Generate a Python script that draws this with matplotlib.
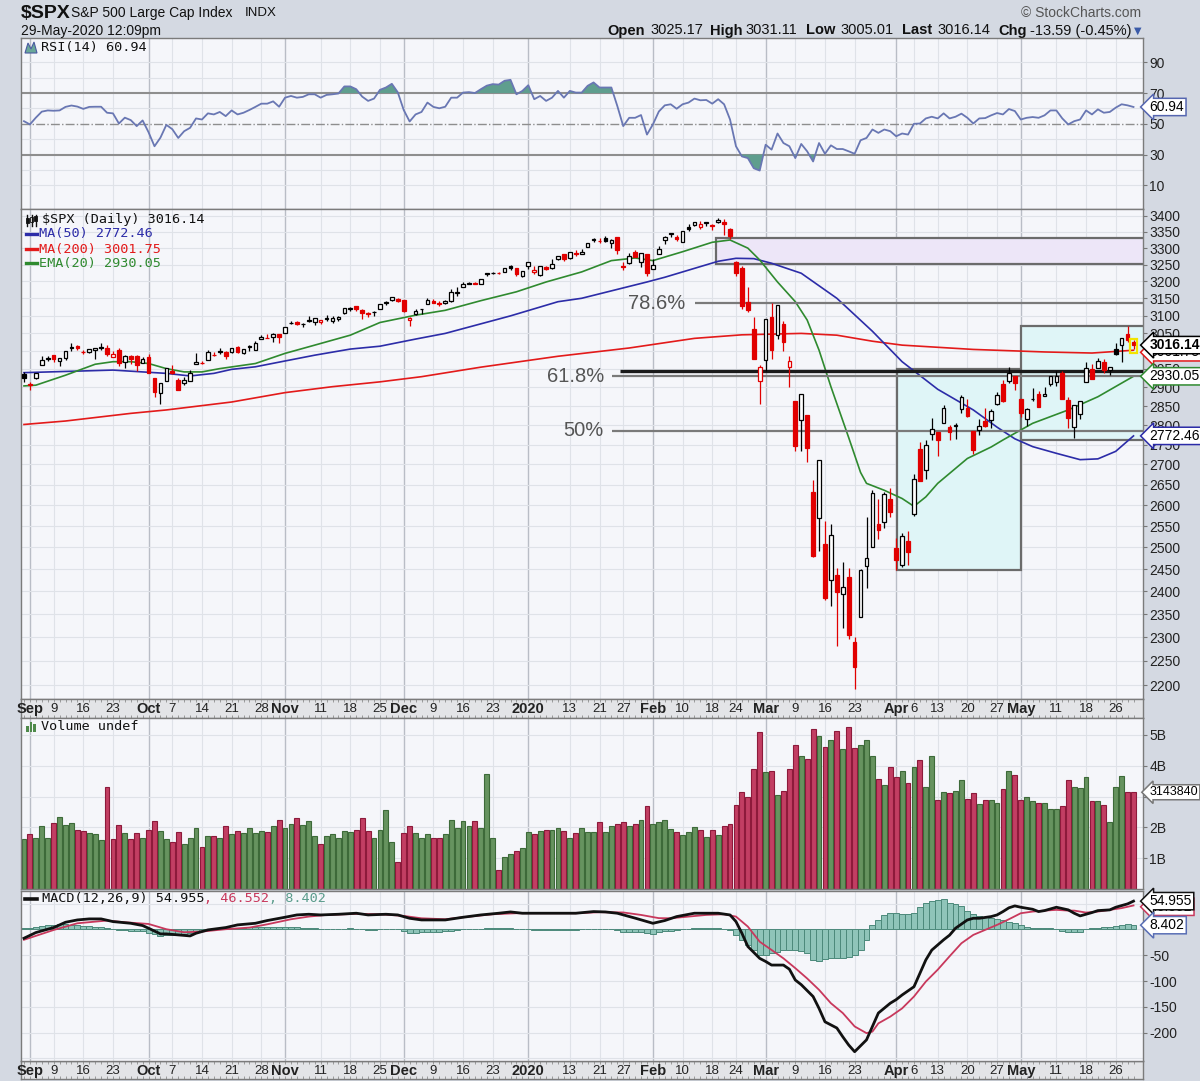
import numpy as np
import matplotlib
matplotlib.use("Agg")
import matplotlib.pyplot as plt
from matplotlib.patches import Rectangle, Polygon
from matplotlib.ticker import NullLocator, NullFormatter

# ---------------- data: one value per trading day, 30-Aug-2019 .. 29-May-2020 ----------------
open_ = [2937.1, 2909.0, 2924.7, 2960.6, 2980.3, 2988.4, 2971.0, 2981.4, 3009.1, 3012.2, 2996.4, 2995.7, 3001.5, 3010.4, 3008.4, 2983.5, 3002.4, 2968.4, 2985.7, 2985.5, 2967.1,
         2983.7, 2924.8, 2885.4, 2918.6, 2944.2, 2920.4, 2911.1, 2918.6, 2963.1, 2965.8, 2973.6, 2989.7, 3000.8, 2996.8, 2996.5, 3010.7, 2994.0, 3014.8, 3003.3, 3032.1, 3035.4, 3039.7, 3046.9,
         3050.7, 3078.9, 3080.8, 3075.1, 3087.0, 3081.3, 3080.3, 3089.3, 3084.2, 3090.8, 3107.9, 3117.9, 3127.5, 3114.7, 3108.5, 3111.4, 3117.4, 3134.9, 3145.5, 3147.2,
         3143.8, 3087.4, 3103.5, 3119.2, 3134.6, 3141.9, 3135.4, 3135.8, 3141.2, 3166.7, 3183.6, 3195.4, 3195.2, 3192.3, 3223.3, 3226.1, 3225.5, 3227.2, 3247.2, 3240.1, 3215.2,
         3244.7, 3226.4, 3217.6, 3241.9, 3238.6, 3266.0, 3281.0, 3271.1, 3285.4, 3282.3, 3303.0, 3323.7, 3321.0, 3330.0, 3315.8, 3333.1, 3247.2, 3255.3, 3289.5, 3256.5, 3282.3,
         3235.7, 3280.6, 3324.9, 3344.9, 3335.5, 3318.3, 3365.9, 3370.5, 3365.9, 3378.1, 3369.0, 3380.4, 3380.5, 3360.5, 3257.6, 3238.9, 3139.9, 3062.5, 2916.9,
         2974.3, 3096.5, 3045.8, 3075.7, 2954.2, 2863.9, 2813.5, 2825.6, 2630.9, 2570.0, 2508.6, 2425.7, 2436.5, 2393.5, 2431.9, 2290.7, 2344.4, 2457.8, 2501.3, 2555.9, 2559.0, 2614.7,
         2498.1, 2458.5, 2514.9, 2578.3, 2738.7, 2685.0, 2777.0, 2782.5, 2805.1, 2795.6, 2799.3, 2842.4, 2845.6, 2784.8, 2787.9, 2810.4, 2812.6, 2854.7, 2910.0, 2918.5, 2930.9,
         2869.1, 2815.0, 2868.9, 2883.1, 2878.3, 2908.8, 2915.5, 2939.5, 2865.9, 2794.5, 2830.0, 2913.9, 2948.6, 2953.6, 2970.0, 2948.1, 3004.1, 3015.7, 3046.6, 3025.2]
high = [2940.4, 2914.4, 2938.8, 2985.9, 2985.0, 2989.4, 2979.4, 3000.9, 3020.7, 3017.3, 3002.2, 3006.2, 3007.8, 3021.0, 3016.4, 2999.2, 3007.3, 2989.8, 2987.3, 2987.3, 2983.8,
        2992.5, 2924.8, 2911.1, 2953.7, 2959.8, 2925.5, 2929.3, 2948.5, 2993.3, 2972.8, 3003.3, 2997.5, 3008.3, 3000.0, 3007.3, 3014.6, 3004.8, 3016.1, 3027.4, 3044.1, 3047.9, 3050.1, 3046.9,
        3066.9, 3085.2, 3083.9, 3078.3, 3097.8, 3093.1, 3088.3, 3102.6, 3098.1, 3098.2, 3120.5, 3124.2, 3127.6, 3119.0, 3110.1, 3112.9, 3133.8, 3142.7, 3154.3, 3150.3,
        3144.3, 3095.0, 3119.4, 3119.5, 3150.6, 3148.9, 3142.1, 3144.0, 3176.3, 3182.7, 3197.7, 3198.2, 3198.5, 3205.5, 3225.6, 3227.8, 3226.4, 3240.1, 3247.9, 3240.9, 3231.7,
        3258.1, 3246.2, 3246.8, 3244.9, 3267.1, 3275.6, 3283.0, 3288.1, 3294.3, 3298.7, 3317.1, 3329.9, 3329.8, 3337.8, 3326.9, 3333.2, 3258.8, 3285.8, 3293.5, 3285.9, 3282.3,
        3268.4, 3306.9, 3337.6, 3348.0, 3341.4, 3352.3, 3375.6, 3381.5, 3385.1, 3380.7, 3375.0, 3393.5, 3389.2, 3360.8, 3259.8, 3247.0, 3182.5, 3097.1, 2959.7,
        3091.0, 3136.7, 3131.0, 3083.0, 2985.9, 2863.9, 2882.6, 2825.6, 2660.9, 2711.3, 2563.0, 2553.9, 2453.6, 2467.0, 2453.0, 2300.7, 2449.7, 2571.4, 2637.0, 2615.9, 2631.8, 2641.4,
        2522.8, 2533.2, 2538.2, 2676.9, 2756.9, 2760.8, 2818.6, 2782.5, 2851.9, 2801.9, 2806.5, 2879.2, 2869.0, 2785.5, 2815.1, 2844.9, 2842.7, 2887.7, 2921.2, 2954.9, 2930.9,
        2869.1, 2844.2, 2898.2, 2891.1, 2901.9, 2932.2, 2944.3, 2945.8, 2874.1, 2852.8, 2865.0, 2968.1, 2964.2, 2980.3, 2978.5, 2956.8, 3021.7, 3036.3, 3068.7, 3031.1]
low = [2913.3, 2891.9, 2921.9, 2960.6, 2972.5, 2969.4, 2957.0, 2975.3, 3000.9, 3002.9, 2990.7, 2993.7, 2978.6, 3003.2, 2984.7, 2982.2, 2957.7, 2952.9, 2963.7, 2945.5, 2967.1,
       2938.7, 2874.9, 2855.9, 2918.6, 2935.7, 2892.7, 2907.4, 2917.1, 2963.1, 2962.9, 2973.6, 2985.2, 2991.8, 2976.3, 2995.4, 2995.0, 2991.2, 3000.4, 3001.9, 3032.1, 3034.8, 3025.9, 3023.2,
       3050.7, 3074.9, 3072.2, 3065.9, 3080.3, 3073.6, 3075.8, 3084.7, 3078.8, 3083.3, 3104.6, 3112.1, 3113.5, 3091.4, 3094.6, 3099.3, 3117.4, 3131.0, 3143.4, 3139.3,
       3110.8, 3070.3, 3102.5, 3103.8, 3134.6, 3135.5, 3126.1, 3133.2, 3138.5, 3156.5, 3183.6, 3191.0, 3191.1, 3192.3, 3216.0, 3222.3, 3220.5, 3227.2, 3234.4, 3216.6, 3212.0,
       3235.5, 3222.3, 3214.6, 3232.4, 3236.7, 3263.7, 3260.9, 3268.4, 3277.2, 3280.7, 3302.8, 3318.9, 3316.6, 3320.0, 3301.9, 3281.5, 3234.5, 3253.2, 3271.9, 3242.8, 3214.7,
       3235.7, 3280.6, 3313.8, 3334.4, 3322.1, 3317.8, 3352.7, 3369.7, 3360.5, 3367.1, 3355.6, 3378.8, 3341.0, 3328.5, 3214.7, 3118.8, 3109.0, 2977.4, 2855.8,
       2945.2, 2976.6, 3034.4, 2999.8, 2901.5, 2734.4, 2734.0, 2707.2, 2478.9, 2492.4, 2380.9, 2367.0, 2280.5, 2319.8, 2295.6, 2191.9, 2344.4, 2407.5, 2500.7, 2520.0, 2545.3, 2571.2,
       2447.5, 2455.8, 2460.0, 2574.6, 2657.7, 2663.3, 2762.4, 2721.2, 2805.1, 2761.5, 2764.3, 2830.9, 2820.4, 2727.1, 2776.0, 2794.3, 2791.8, 2852.9, 2860.7, 2912.2, 2892.5,
       2821.6, 2797.9, 2863.6, 2847.7, 2876.5, 2902.9, 2903.4, 2869.6, 2793.2, 2766.6, 2816.8, 2913.9, 2922.4, 2953.6, 2938.6, 2933.6, 2988.2, 2969.8, 3023.4, 3005.0]
close = [2926.5, 2906.3, 2937.8, 2976.0, 2978.7, 2978.4, 2979.4, 3000.9, 3009.6, 3007.4, 2998.0, 3005.7, 3006.7, 3006.8, 2992.1, 2991.8, 2966.6, 2984.9, 2977.6, 2961.8, 2976.7,
         2940.3, 2887.6, 2910.6, 2952.0, 2938.8, 2893.1, 2919.4, 2938.1, 2970.3, 2966.2, 2995.7, 2989.7, 2998.0, 2986.2, 3006.7, 2996.0, 3004.5, 3010.3, 3022.6, 3039.4, 3036.9, 3046.8, 3037.6,
         3066.9, 3078.3, 3074.6, 3076.8, 3085.2, 3093.1, 3087.0, 3091.8, 3094.0, 3096.6, 3120.5, 3122.0, 3120.2, 3108.5, 3103.5, 3110.3, 3133.6, 3140.5, 3153.6, 3141.0,
         3113.9, 3093.2, 3112.8, 3117.4, 3145.9, 3136.0, 3132.5, 3141.6, 3168.6, 3168.8, 3191.5, 3192.5, 3191.1, 3205.4, 3221.2, 3224.0, 3223.4, 3239.9, 3240.0, 3221.3, 3230.8,
         3257.9, 3234.9, 3246.3, 3237.2, 3253.1, 3274.7, 3265.4, 3288.1, 3283.2, 3289.3, 3316.8, 3329.6, 3320.8, 3321.8, 3325.5, 3295.5, 3243.6, 3276.2, 3273.4, 3283.7, 3225.5,
         3248.9, 3297.6, 3334.7, 3345.8, 3327.7, 3352.1, 3357.8, 3379.5, 3373.9, 3380.2, 3370.3, 3386.2, 3373.2, 3337.8, 3225.9, 3128.2, 3116.4, 2978.8, 2954.2,
         3090.2, 3003.4, 3130.1, 3023.9, 2972.4, 2746.6, 2882.2, 2741.4, 2480.6, 2711.0, 2386.1, 2529.2, 2398.1, 2409.4, 2304.9, 2237.4, 2447.3, 2475.6, 2630.1, 2541.5, 2626.7, 2584.6,
         2470.5, 2526.9, 2488.7, 2663.7, 2659.4, 2750.0, 2789.8, 2761.6, 2846.1, 2783.4, 2799.6, 2874.6, 2823.2, 2736.6, 2799.3, 2797.8, 2836.7, 2878.5, 2863.4, 2939.5, 2912.4,
         2830.7, 2842.7, 2868.4, 2848.4, 2881.2, 2929.8, 2930.3, 2870.1, 2820.0, 2852.5, 2863.7, 2953.9, 2922.9, 2971.6, 2948.5, 2955.5, 2991.8, 3036.1, 3029.7, 3016.14]
prev_close = 2924.6  # 29-Aug-2019, colours the first candle

volume_b = [1.63, 1.77, 1.67, 2.03, 1.67, 2.15, 2.34, 2.07, 2.15, 1.93, 1.89, 1.81, 1.77, 1.58, 3.30, 1.63, 2.07, 1.81, 1.63, 1.81,
            1.67, 1.93, 2.20, 1.89, 1.63, 1.54, 1.85, 1.45, 1.67, 1.98, 1.36, 1.73, 1.73, 1.67, 2.03, 1.77, 1.89, 1.81, 1.98, 1.81,
            1.89, 1.85, 2.03, 2.24, 1.98, 2.12, 2.29, 2.07, 2.20, 1.73, 1.45, 1.73, 1.77, 1.67, 1.89, 1.85, 1.93, 2.29, 1.89, 1.67,
            1.93, 2.55, 1.54, 0.88, 1.81, 2.03, 1.81, 1.67, 1.77, 1.67, 1.67, 1.77, 2.24, 1.98, 2.20, 2.03, 2.20, 1.98, 3.74, 1.67,
            0.62, 1.05, 1.14, 1.23, 1.32, 1.85, 1.77, 1.89, 1.93, 1.93, 1.98, 1.89, 1.67, 1.81, 1.98, 1.85, 1.85,
            2.19, 1.86, 2.03, 2.11, 2.16, 2.03, 2.11, 2.24, 2.68, 2.11, 2.16, 2.24, 1.94, 1.86, 1.74, 1.86, 2.00, 1.90, 1.69, 1.90,
            1.74, 2.03, 2.11, 2.73, 3.15, 2.98, 3.88, 5.09, 3.80, 3.84, 3.06, 3.19, 3.88, 4.66, 4.33, 4.23, 5.18, 4.95, 4.62, 4.83,
            5.13, 4.53, 5.26, 4.57, 4.66, 4.83, 4.33, 3.58, 3.37, 3.97, 3.62, 3.84, 3.45, 3.97, 4.19, 3.32, 4.32, 2.89, 3.15, 3.11,
            3.19, 3.54, 2.93, 3.11, 2.76, 2.89, 2.89, 2.80, 3.24, 3.84, 3.71, 2.89, 2.98, 2.85, 2.80, 2.80, 2.59, 2.59, 2.68, 3.54,
            3.32, 3.28, 3.62, 2.85, 2.85, 2.72, 2.16, 3.32, 3.67, 3.15, 3.14]

rsi14 = [51.7, 49.6, 54.0, 57.9, 58.7, 58.5, 58.7, 61.0, 61.9, 61.2, 59.7, 61.0, 61.1, 61.1, 57.2, 56.8, 50.2, 54.0, 52.4, 48.5,
         52.2, 44.5, 35.4, 41.0, 49.3, 46.5, 40.8, 45.2, 47.4, 53.5, 52.8, 56.8, 56.1, 57.7, 55.0, 58.7, 56.1, 57.2, 59.0, 61.0,
         63.1, 63.1, 64.6, 61.1, 67.0, 68.1, 67.0, 67.5, 69.2, 69.2, 67.0, 68.8, 69.2, 69.7, 74.3, 74.3, 72.5, 67.7, 64.9, 66.4,
         72.1, 73.6, 76.0, 70.5, 59.0, 51.5, 56.1, 57.7, 63.8, 61.0, 60.1, 61.1, 67.0, 67.0, 70.3, 70.6, 70.0, 72.5, 74.8, 75.8,
         75.5, 78.0, 78.6, 69.2, 71.4, 75.1, 66.0, 68.1, 64.9, 67.0, 71.4, 67.0, 71.4, 70.3, 70.3, 74.7, 76.9, 73.6, 73.6, 73.6,
         61.6, 48.5, 53.9, 53.9, 55.7, 43.0, 49.6, 58.0, 62.0, 62.7, 59.8, 62.7, 63.8, 66.4, 65.3, 65.5, 63.1, 66.0, 62.7, 52.8,
         35.4, 28.8, 27.7, 21.1, 19.6, 36.4, 33.2, 43.7, 37.5, 35.4, 27.7, 36.9, 32.1, 25.5, 37.5, 30.5, 36.0, 33.6, 33.6, 32.1,
         30.5, 39.3, 40.8, 46.3, 44.1, 46.3, 45.2, 41.9, 43.7, 43.0, 50.0, 50.2, 53.5, 54.6, 53.5, 56.8, 53.5, 54.6, 56.6, 53.9,
         50.2, 53.5, 53.7, 55.5, 57.0, 56.1, 59.6, 58.3, 52.8, 53.9, 54.4, 53.9, 55.5, 58.7, 58.7, 53.5, 49.6, 51.7, 52.8, 58.7,
         56.1, 59.4, 57.2, 57.7, 60.5, 62.7, 62.0, 60.94]

macd_hist = [2.4, 3, 5, 7.5, 8.5, 9.5, 10, 10, 9, 8, 7, 6, 5, 4, 2.5, 1.5, -1, -1, -2, -3,
             -3.5, -6, -9.5, -12.5, -11, -10.5, -11, -9.5, -7, -4, -2, -0.5, 1.5, 2.5, 3, 3.5, 3.5, 3.5, 4, 4.5,
             5, 5.5, 5.5, 4.5, 5, 5, 4, 3.5, 3, 2.5, 1.5, 1.5, 1, 0.5, 1.5, 2, 1.5, 0.5, -0.5, -1.5,
             0, 0.5, 1, 0, -3, -6, -6, -5.5, -4, -4, -4, -3.5, -2, -1, 0, 0.5, 0.5, 1, 2, 2.5,
             2.5, 3, 3, 1.5, 1, 1, -0.5, -1, -1.5, -1.5, -1, -1.5, -1, -1, 0, 1, 1.5, 1.5, 1, 0.5,
             -1.5, -4, -4, -4.5, -5, -7.5, -8, -5, -3, -2, -1, 0, 1, 2, 2, 2.5, 2.5, 2.5, 1.5, -1,
             -10, -20, -30, -40, -50, -50, -45, -44, -40, -40, -40, -42, -45, -60, -61, -58, -56, -56, -55, -53,
             -50, -40, -20, 8, 18, 28, 31, 31, 30, 30, 32, 44, 52, 56, 58, 59, 52, 49, 46, 36,
             30, 27, 25, 22, 20, 18, 15, 12, 8, 5, 3, 2, 2, 2, 1, -3, -5, -5, -4, 0,
             2, 3, 4, 5, 6, 8, 10, 8.402]

# indicator lines at selected trading days
ma50_day = [0, 15, 24, 28, 32, 35, 39, 44, 49, 55, 60, 66, 71, 82, 90, 94, 105, 108, 114, 117, 120, 123, 126, 131,
            137, 143, 148, 154, 160, 164, 167, 170, 174, 178, 181, 184, 187]
ma50_val = [2940, 2947, 2938, 2931, 2938, 2949, 2956, 2972, 2988, 3005, 3013, 3033, 3049, 3099, 3140, 3150, 3198, 3212,
            3244, 3260, 3269, 3268, 3254, 3224, 3150, 3055, 2970, 2895, 2840, 2795, 2765, 2745, 2728, 2712, 2714, 2733, 2772.46]
ma200_day = [0, 7, 18, 24, 35, 44, 52, 60, 67, 77, 90, 102, 113, 121, 131, 137, 143, 148, 160, 172, 180, 187]
ma200_val = [2802, 2811, 2831, 2840, 2861, 2886, 2902, 2915, 2929, 2955, 2985, 3008, 3035, 3045, 3049, 3044, 3027, 3016,
             3004, 2997, 2994, 3001.75]
ema20_day = [0, 2, 7, 12, 15, 18, 21, 24, 27, 30, 33, 39, 44, 49, 55, 60, 66, 71, 77, 83, 88, 94, 99, 103, 106, 111,
             116, 119, 122, 124, 127, 130, 132, 134, 136, 139, 141, 142, 145, 148, 150, 152, 154, 159, 163, 165, 170, 176, 181, 187]
ema20_val = [2904, 2906, 2933, 2963, 2970, 2970, 2965, 2951, 2942, 2942, 2951, 2965, 2993, 3016, 3044, 3080, 3101, 3115,
             3143, 3169, 3198, 3228, 3262, 3270, 3262, 3289, 3318, 3325, 3300, 3264, 3198, 3140, 3087, 3002, 2902, 2768,
             2680, 2653, 2636, 2616, 2597, 2620, 2653, 2715, 2744, 2762, 2805, 2840, 2875, 2930.05]
macd_day = [0, 2, 5, 7, 9, 11, 13, 15, 18, 20, 21, 23, 24, 26, 28, 29, 31, 34, 36, 39, 41, 44, 46, 48, 50, 53, 56, 58,
            61, 63, 65, 67, 71, 74, 77, 80, 82, 84, 87, 90, 93, 96, 98, 100, 103, 106, 108, 110, 113, 117, 119, 120, 121,
            122, 124, 125, 126, 128, 129, 130, 131, 133, 134, 135, 137, 138, 139, 140, 142, 143, 144, 146, 147, 148, 150,
            151, 152, 153, 155, 156, 157, 159, 160, 161, 163, 164, 165, 166, 167, 168, 170, 171, 172, 174, 176, 177, 178,
            180, 181, 183, 184, 186, 187]
macd_val = [-17, -6, 3.7, 14, 18.5, 20.5, 20.5, 15.3, 12, 7.6, 2.4, -8.6, -8.6, -10.5, -12.5, -7.3, -0.8, 3.7, 8.9, 12,
            17.3, 23.7, 28.2, 29.5, 28.2, 29.5, 31.5, 28.2, 29.5, 28.2, 21.7, 18.5, 18.5, 23.7, 28.2, 31.5, 34, 31.5, 31.5,
            31.5, 31.5, 34.7, 34, 31.5, 22, 12, 17.3, 25, 31.5, 31.5, 28.2, 15.3, -7.3, -33, -56, -62, -69, -69, -77, -98,
            -107, -130, -153, -179, -191, -208, -224, -237, -214, -188, -162, -143, -136, -127, -111, -85, -59, -40, -20,
            -11, 2.4, 18.5, 21.7, 21.7, 25, 28.2, 34.7, 42, 45.7, 43.1, 39.2, 34.7, 36.6, 43.1, 38, 31.5, 26.3, 32.8, 36.6,
            38, 43.1, 49.6, 54.955]
signal_day = [0, 5, 9, 14, 17, 21, 24, 27, 30, 34, 38, 41, 45, 48, 51, 56, 60, 64, 67, 71, 74, 79, 83, 87, 93, 97, 101,
              104, 107, 109, 112, 115, 118, 120, 122, 124, 126, 128, 130, 132, 134, 136, 138, 140, 142, 143, 144, 146,
              148, 150, 152, 154, 156, 158, 160, 162, 164, 166, 168, 170, 172, 174, 176, 177, 179, 181, 183, 185, 187]
signal_val = [-20, -1, 12, 17.3, 14, 10.7, 0.5, -5.4, -4, 0.5, 3.7, 10, 19.8, 25, 28.2, 30.2, 29.5, 26.3, 21.7, 19.8,
              23.7, 29.5, 31.5, 31.5, 31.5, 33.5, 33, 28.2, 22, 21.7, 25, 28.2, 29.5, 25, 5.6, -23.7, -39.7, -56, -75, -95,
              -117, -143, -162, -188, -201, -198, -182, -169, -153, -130, -101, -78, -52, -26.7, -10.5, -0.8, 8.9, 19.8,
              31.5, 34.7, 36.6, 38, 36.6, 36.6, 32.8, 34.7, 38, 41.4, 46.552]

# x-axis labels (trading-day index of each label)
tick_day = [1, 5, 10, 15, 21, 25, 30, 35, 40, 44, 50, 55, 60, 64, 69, 74, 79, 85, 92, 97, 101, 106, 111, 116, 120,
            125, 130, 135, 140, 147, 150, 154, 159, 164, 168, 174, 179, 184]
tick_txt = ['Sep', '9', '16', '23', 'Oct', '7', '14', '21', '28', 'Nov', '11', '18', '25', 'Dec', '9', '16', '23',
            '2020', '13', '21', '27', 'Feb', '10', '18', '24', 'Mar', '9', '16', '23', 'Apr', '6', '13', '20', '27',
            'May', '11', '18', '26']
month_txt = {'Sep', 'Oct', 'Nov', 'Dec', '2020', 'Feb', 'Mar', 'Apr', 'May'}

# annotations drawn on the price panel
fib_levels = [('78.6%', 3135, 113.1, 111.4), ('61.8%', 2930, 99.1, 97.8), ('50%', 2786, 99.1, 97.6)]
resist_level, resist_start = 2944, 100.5
zones = [(116.7, 200, 3253, 3331, '#ede6f8'), (147.2, 168.1, 2447, 2951, '#dff5f7'), (168.1, 200, 2763, 3070, '#dff5f7')]

assert len(open_) == len(high) == len(low) == len(close) == len(volume_b) == len(rsi14) == len(macd_hist) == 188

# ---------------- figure ----------------
W, H = 1200, 1081
L, R = 21, 1143
XMIN, XMAX = -0.5, 188.6
PANEL_BG = '#f5f6fa'
GRID = '#dfe2e8'
SANS = ['Liberation Sans', 'DejaVu Sans']
MONO = 'DejaVu Sans Mono'

fig = plt.figure(figsize=(W / 100, H / 100), dpi=100)
fig.patch.set_facecolor('#d4d9e2')


def fx(px):
    return px / W


def fy(py):
    return 1 - py / H


def panel(top, bottom, bg=PANEL_BG):
    ax = fig.add_axes([fx(L), fy(bottom), (R - L) / W, (bottom - top) / H])
    ax.set_facecolor(bg)
    ax.set_xlim(XMIN, XMAX)
    for s in ax.spines.values():
        s.set_color('#7b7b7b')
        s.set_linewidth(1.0)
    ax.tick_params(axis='x', bottom=False, labelbottom=False)
    return ax


def vgrid(ax):
    for d, t in zip(tick_day, tick_txt):
        major = t in month_txt
        ax.axvline(d, color='#b9bdc6' if major else GRID, lw=1.0 if major else 0.8, zorder=0)


def right_ticks(ax, vals, labels):
    # labels that sit under a value tag in the original are left blank
    ax.yaxis.tick_right()
    ax.set_yticks(vals)
    ax.set_yticklabels(labels)
    ax.yaxis.set_minor_locator(NullLocator())
    ax.yaxis.set_minor_formatter(NullFormatter())
    ax.tick_params(axis='y', length=3, width=0.8, color='#777777', pad=1.5, labelsize=10, labelcolor='#222222')
    for t in ax.get_yticklabels():
        t.set_fontfamily(SANS)


def tag(ax, y, text, ec, weight='normal', fs=10):
    ax.text(1.006, y, text, transform=ax.get_yaxis_transform(), ha='left', va='center', fontsize=fs,
            fontweight=weight, family=SANS, color='black', zorder=30, clip_on=False,
            bbox=dict(boxstyle='larrow,pad=0.12', fc='white', ec=ec, lw=1.1))


def date_strip(top, bottom):
    ax = panel(top, bottom, bg='#e3e4e7')
    ax.set_ylim(0, 1)
    ax.set_yticks([])
    days = np.arange(len(close))
    ax.vlines(days, 0.84, 1.0, color='#8e8e8e', lw=0.6)
    ax.vlines(days, 0.0, 0.16, color='#8e8e8e', lw=0.6)
    for d, t in zip(tick_day, tick_txt):
        major = t in month_txt
        ax.text(d, 0.47, t, ha='center', va='center', family=SANS,
                fontsize=10.5 if major else 9.5, fontweight='bold' if major else 'normal', color='#222222')
    return ax


x = np.arange(len(close))
o, h, lo, c = map(np.array, (open_, high, low, close))
prev = np.r_[prev_close, c[:-1]]
up = c >= prev
candle_col = np.where(up, '#000000', '#e10000')

# ---------------- RSI ----------------
ax_rsi = panel(38, 209)
ax_rsi.set_ylim(-5.4, 105.8)
vgrid(ax_rsi)
for v in range(10, 100, 10):
    if v not in (30, 50, 70):
        ax_rsi.axhline(v, color=GRID, lw=0.8, zorder=0)
ax_rsi.axhline(70, color='#8e8e8e', lw=1.5, zorder=1)
ax_rsi.axhline(30, color='#8e8e8e', lw=1.5, zorder=1)
ax_rsi.axhline(50, color='#8e8e8e', lw=1.0, ls='-.', zorder=1)
rsi = np.array(rsi14)
ax_rsi.fill_between(x, rsi, 70, where=rsi >= 70, interpolate=True, color='#5f9e8e', lw=0, zorder=2)
ax_rsi.fill_between(x, rsi, 30, where=rsi <= 30, interpolate=True, color='#5f9e8e', lw=0, zorder=2)
ax_rsi.plot(x, rsi, color='#6977b3', lw=1.3, zorder=3)
right_ticks(ax_rsi, [10, 30, 50, 70, 90], ['10', '30', '50', '70', '90'])
tag(ax_rsi, rsi[-1], f'{rsi[-1]:.2f}', '#5566b0')
fig.text(fx(41), fy(47.5), 'RSI(14) 60.94', family=MONO, fontsize=9.7, va='center', color='#111111')
fig.patches.append(Polygon([(fx(25), fy(53)), (fx(28), fy(43)), (fx(31), fy(49)), (fx(34), fy(42)), (fx(37), fy(53))],
                           closed=True, transform=fig.transFigure, fc='#6aa899', ec='#4a5aa0', lw=0.8))

# ---------------- price ----------------
ax_p = panel(209, 699)
ax_p.set_yscale('log')
ax_p.set_ylim(2172, 3422)
vgrid(ax_p)
pticks = list(range(2200, 3401, 50))
for v in pticks:
    ax_p.axhline(v, color=GRID, lw=0.8, zorder=0)
right_ticks(ax_p, pticks, ['' if v == 3000 else str(v) for v in pticks])

for x0, x1, z_lo, z_hi, fc in zones:
    ax_p.add_patch(Rectangle((x0, z_lo), x1 - x0, z_hi - z_lo, fc=fc, ec='#6b6b6b', lw=1.6, zorder=1))

for name, lvl, start, lab_x in fib_levels:
    ax_p.plot([start, XMAX], [lvl, lvl], color='#7a7a7a', lw=1.6, zorder=3, solid_capstyle='butt')
    ax_p.text(lab_x, lvl, name, ha='right', va='center', fontsize=14.5, family=SANS, color='#555555', zorder=3)
ax_p.plot([resist_start, XMAX], [resist_level, resist_level], color='#1a1a1a', lw=2.4, zorder=3,
          solid_capstyle='butt')

ax_p.plot(ma200_day, ma200_val, color='#e31a1a', lw=1.2, zorder=2)
ax_p.plot(ma50_day, ma50_val, color='#2c2ca8', lw=1.2, zorder=2)
ax_p.plot(ema20_day, ema20_val, color='#2f8a2f', lw=1.2, zorder=2)

ax_p.vlines(x, lo, h, colors=candle_col, lw=0.9, zorder=4)
body_lo = np.minimum(o, c)
body_h = np.abs(c - o)
face = np.where(c > o, '#ffffff', candle_col)
ax_p.bar(x, body_h, bottom=body_lo, width=0.62, color=face, edgecolor=candle_col, lw=0.9, zorder=5)
ax_p.add_patch(Rectangle((x[-1] - 0.55, 2995), 1.1, 3034 - 2995, fill=False, ec='#f2e400', lw=1.6, zorder=6))

tag(ax_p, 2996, '3001.75', '#e31a1a')
tag(ax_p, c[-1], f'{c[-1]:.2f}', '#000000', weight='bold')
tag(ax_p, 2930.05, '2930.05', '#2f8a2f')
tag(ax_p, 2772.46, '2772.46', '#2c2ca8')

fig.text(fx(42.5), fy(220), '$SPX (Daily) 3016.14', family=MONO, fontsize=9.7, va='center', color='#111111')
for yy, txt, colr in [(234, 'MA(50) 2772.46', '#2c2ca8'), (249, 'MA(200) 3001.75', '#e31a1a'),
                      (263.5, 'EMA(20) 2930.05', '#2f8a2f')]:
    fig.text(fx(39), fy(yy), txt, family=MONO, fontsize=9.7, va='center', color=colr)
    fig.lines.append(plt.Line2D([fx(26), fx(37)], [fy(yy), fy(yy)], transform=fig.transFigure, color=colr, lw=2.4))
for k, xx in enumerate([27.5, 31.5, 35.5]):
    fig.lines.append(plt.Line2D([fx(xx), fx(xx)], [fy(215), fy(226)], transform=fig.transFigure, color='#111', lw=1))
    fig.patches.append(Rectangle((fx(xx - 1.3), fy(223 - k)), 2.6 / W, 5 / H, transform=fig.transFigure,
                                 fc='#111' if k != 1 else 'white', ec='#111', lw=0.6))

# ---------------- date strips ----------------
date_strip(699, 718)
date_strip(1061, 1079)

# ---------------- volume ----------------
ax_v = panel(718, 889)
ax_v.set_ylim(0, 5.55)
vgrid(ax_v)
for v in range(1, 6):
    ax_v.axhline(v, color=GRID, lw=0.8, zorder=0)
ax_v.bar(x, volume_b, width=0.82, color=np.where(up, '#66935f', '#c23e63'),
         edgecolor=np.where(up, '#3d6a39', '#8d1a3b'), lw=0.8, zorder=2)
right_ticks(ax_v, [1, 2, 3, 4, 5], ['1B', '2B', '', '4B', '5B'])
tag(ax_v, volume_b[-1], '3143840', '#777777', fs=9)
fig.text(fx(41), fy(727), 'Volume undef', family=MONO, fontsize=9.7, va='center', color='#111111')
for xx, hh in [(26, 6), (29.5, 10), (33, 8)]:
    fig.patches.append(Rectangle((fx(xx), fy(732)), 2.6 / W, hh / H, transform=fig.transFigure,
                                 fc='#4f8a4b', ec='none'))

# ---------------- MACD ----------------
ax_m = panel(891, 1061)
ax_m.set_ylim(-255, 74.6)
vgrid(ax_m)
for v in (50, 0, -50, -100, -150, -200, -250):
    ax_m.axhline(v, color=GRID, lw=0.8, zorder=0)
ax_m.bar(x, macd_hist, width=1.0, color='#8fc4b9', edgecolor='#4c897b', lw=0.7, zorder=2)
ax_m.plot(signal_day, signal_val, color='#c8385c', lw=1.3, zorder=3)
ax_m.plot(macd_day, macd_val, color='#111111', lw=2.0, zorder=4)
right_ticks(ax_m, [50, 0, -50, -100, -150, -200], ['', '', '-50', '-100', '-150', '-200'])
tag(ax_m, 44, '46.552', '#c8385c')
tag(ax_m, 54.955, '54.955', '#111111')
tag(ax_m, 8.402, '8.402', '#5a6fb5')
fig.lines.append(plt.Line2D([fx(25), fx(37)], [fy(899), fy(899)], transform=fig.transFigure, color='#111', lw=2.6))
fig.text(fx(42), fy(899), 'MACD(12,26,9) 54.955', family=MONO, fontsize=9.7, va='center', color='#111111')
fig.text(fx(204), fy(899), ', 46.552', family=MONO, fontsize=9.7, va='center', color='#c8385c')
fig.text(fx(269), fy(899), ', 8.402', family=MONO, fontsize=9.7, va='center', color='#5a9c8c')

# ---------------- header ----------------
fig.text(fx(21), fy(13), '$SPX', family=SANS, fontsize=14, fontweight='bold', va='center', color='#111')
fig.text(fx(71), fy(13), 'S&P 500 Large Cap Index', family=SANS, fontsize=10, va='center', color='#111')
fig.text(fx(245), fy(13.5), 'INDX', family=SANS, fontsize=9.5, va='center', color='#111')
fig.text(fx(21), fy(30.5), '29-May-2020 12:09pm', family=SANS, fontsize=10, va='center', color='#111')
fig.text(fx(1141), fy(13), '\u00a9 StockCharts.com', family=SANS, fontsize=10, va='center', ha='right', color='#555')
for xx, txt, bold in [(607.5, 'Open', True), (650, '3025.17', False), (710, 'High', True), (745, '3031.11', False),
                      (806, 'Low', True), (840, '3005.01', False), (902, 'Last', True), (937, '3016.14', False),
                      (998, 'Chg', True), (1030.5, '-13.59 (-0.45%)', False)]:
    fig.text(fx(xx), fy(30.5), txt, family=SANS, fontsize=10.5, fontweight='bold' if bold else 'normal',
             va='center', color='#111')
fig.text(fx(1134), fy(31), '\u25bc', family=['DejaVu Sans'], fontsize=7, va='center', color='#3a5aa8')

fig.savefig('out.png', dpi=100, facecolor=fig.get_facecolor())
